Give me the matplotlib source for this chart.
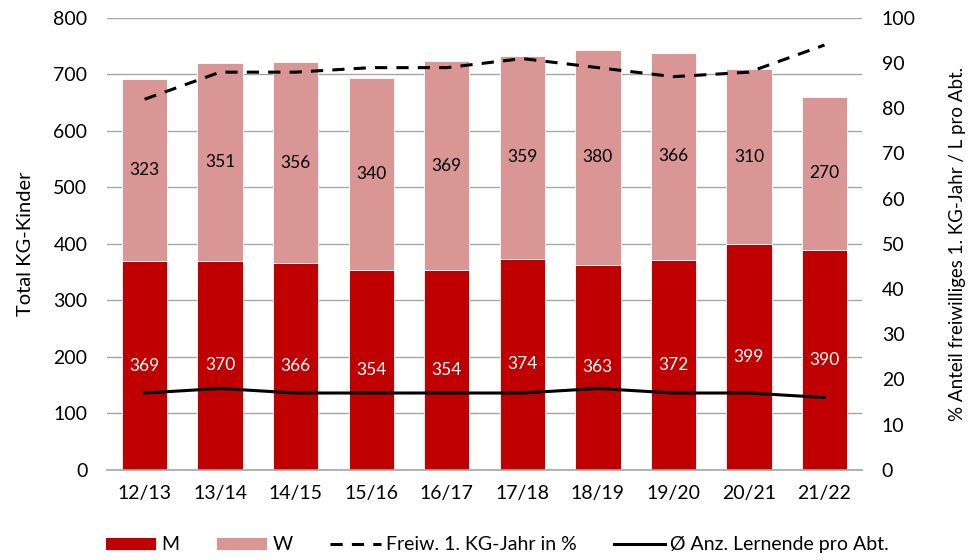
import matplotlib
matplotlib.use("Agg")
import matplotlib.pyplot as plt
import numpy as np

plt.rcParams['font.family'] = ['Lato', 'DejaVu Sans']

years = ['12/13', '13/14', '14/15', '15/16', '16/17', '17/18', '18/19', '19/20', '20/21', '21/22']
m_vals = [369, 370, 366, 354, 354, 374, 363, 372, 399, 390]
w_vals = [323, 351, 356, 340, 369, 359, 380, 366, 310, 270]
freiw_pct = [82, 88, 88, 89, 89, 91, 89, 87, 88, 94]
lernende = [17, 18, 17, 17, 17, 17, 18, 17, 17, 16]

c_m = '#C00000'
c_w = '#D99694'

fig = plt.figure(figsize=(9.71, 5.6), dpi=100)
ax = fig.add_axes([0.110, 0.161, 0.778, 0.807])
x = np.arange(len(years))

b1 = ax.bar(x, m_vals, width=0.6, color=c_m, edgecolor='white', linewidth=0.6, label='M', zorder=2)
b2 = ax.bar(x, w_vals, width=0.6, bottom=m_vals, color=c_w, edgecolor='white', linewidth=0.6, label='W', zorder=2)

for i in range(len(years)):
    ax.text(x[i], m_vals[i] / 2, str(m_vals[i]), ha='center', va='center', color='white', fontsize=12.5, zorder=3)
    ax.text(x[i], m_vals[i] + w_vals[i] / 2, str(w_vals[i]), ha='center', va='center', color='black', fontsize=12.5, zorder=3)

ax.set_ylim(0, 800)
ax.set_yticks(range(0, 801, 100))
ax.set_xlim(-0.5, len(years) - 0.5)
ax.set_xticks(x)
ax.set_xticklabels(years)
ax.grid(axis='y', color='#A6A6A6', linewidth=1, zorder=0)
ax.set_axisbelow(True)
for s in ['top', 'right', 'left']:
    ax.spines[s].set_visible(False)
ax.spines['bottom'].set_color('#A6A6A6')
ax.spines['bottom'].set_linewidth(1.2)
ax.tick_params(axis='x', length=0, labelsize=14, pad=11)
ax.tick_params(axis='y', length=0, labelsize=14, pad=14)
ax.set_ylabel('Total KG-Kinder', fontsize=14.5, labelpad=14)

ax2 = ax.twinx()
l1, = ax2.plot(x, freiw_pct, color='black', linestyle=(0, (4, 3)), linewidth=2.2, label='Freiw. 1. KG-Jahr in %')
l2, = ax2.plot(x, lernende, color='black', linestyle='-', linewidth=2.2, label='Ø Anz. Lernende pro Abt.')
ax2.set_ylim(0, 100)
ax2.set_yticks(range(0, 101, 10))
for s in ['top', 'right', 'left', 'bottom']:
    ax2.spines[s].set_visible(False)
ax2.tick_params(length=0, labelsize=14, pad=14)
ax2.set_ylabel('% Anteil freiwilliges 1. KG-Jahr / L pro Abt.', fontsize=13.5, labelpad=24)

fig.legend(handles=[b1, b2, l1, l2], loc='center', bbox_to_anchor=(0.512, 0.027), ncol=4,
           frameon=False, fontsize=14, handlelength=2.6, columnspacing=1.9, handletextpad=0.3)

fig.savefig('out.png', dpi=100)
